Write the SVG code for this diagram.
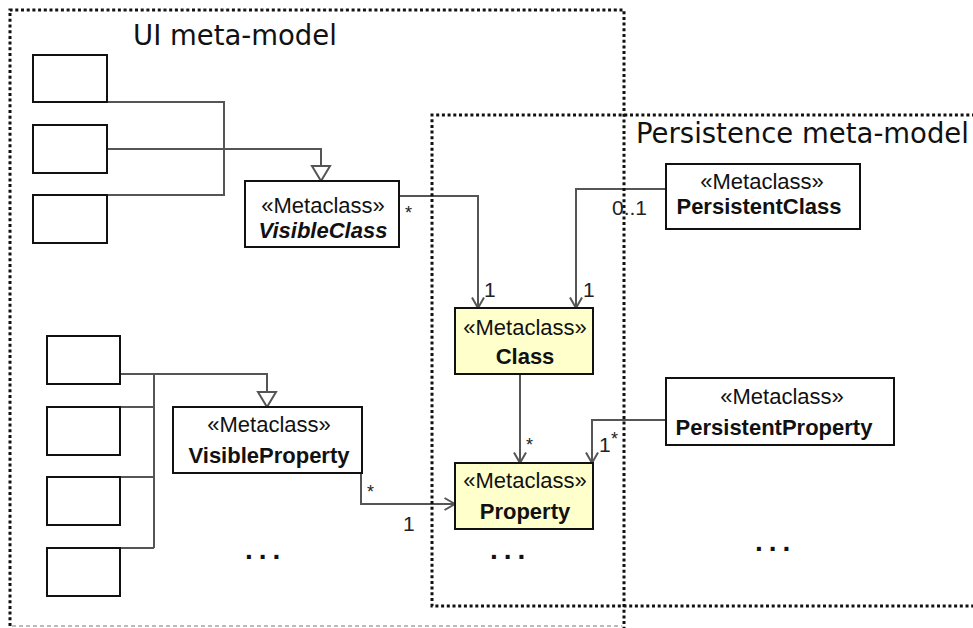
<svg xmlns="http://www.w3.org/2000/svg" width="973" height="628" viewBox="0 0 973 628">
  <style>
    .cls { fill: #ffffff; stroke: #111; stroke-width: 2; }
    .core { fill: #ffffcc; stroke: #111; stroke-width: 2; }
    .stub { fill: #ffffff; stroke: #111; stroke-width: 2; }
    .st { font-family: "Liberation Sans", Arial, sans-serif; font-size: 22px; fill: #111; text-anchor: middle; }
    .nm { font-family: "Liberation Sans", Arial, sans-serif; font-size: 22px; font-weight: bold; fill: #111; text-anchor: middle; }
    .it { font-style: italic; }
    .wire { fill: none; stroke: #555; stroke-width: 2; }
    .gen { fill: #ffffff; stroke: #555; stroke-width: 2; }
    .mult { font-family: "Liberation Sans", Arial, sans-serif; font-size: 21px; fill: #222; }
    .star { font-family: "Liberation Sans", Arial, sans-serif; font-size: 18px; fill: #222; }
    .more { font-family: "Liberation Sans", Arial, sans-serif; font-size: 28px; font-weight: bold; letter-spacing: 6px; fill: #111; }
    .frame { fill: none; stroke: #111; stroke-width: 3; stroke-dasharray: 3 2.7; }
    .frame-soft { fill: none; stroke: #bbb; stroke-width: 2; stroke-dasharray: 4 3; }
    .title { font-family: "DejaVu Sans", sans-serif; font-size: 27.5px; fill: #111; }
  </style>
  <defs>
    <marker id="open" viewBox="0 0 12 14" refX="11.5" refY="7" markerWidth="12" markerHeight="14" orient="auto" markerUnits="userSpaceOnUse">
      <path d="M1,1 L11.5,7 L1,13" fill="none" stroke="#555" stroke-width="2"/>
    </marker>
  </defs>

  <rect width="973" height="628" fill="#ffffff"/>

  <!-- connectors -->
  <g id="connectors">
    <!-- generalizations of the UI class stubs -->
    <path class="wire" d="M107,102 H224 V195 H107"/>
    <path class="wire" d="M107,149 H321 V166"/>
    <polygon class="gen" points="312,166 330,166 321,181"/>
    <path class="wire" d="M120,374 H267 V392"/>
    <polygon class="gen" points="258,392 276,392 267,407"/>
    <path class="wire" d="M154,374 V548 M120,407 H154 M120,477 H154 M120,548 H154"/>

    <!-- associations -->
    <path class="wire" d="M399,196 H478 V308" marker-end="url(#open)"/>
    <path class="wire" d="M666,189 H576 V308" marker-end="url(#open)"/>
    <path class="wire" d="M520,374 V463" marker-end="url(#open)"/>
    <path class="wire" d="M666,420 H592 V463" marker-end="url(#open)"/>
    <path class="wire" d="M361,473 V504 H455" marker-end="url(#open)"/>

    <!-- multiplicities -->
    <text class="star" x="405" y="219">*</text>
    <text class="mult" x="484" y="297">1</text>
    <text class="mult" x="612" y="215">0..1</text>
    <text class="mult" x="583" y="297">1</text>
    <text class="star" x="526" y="451">*</text>
    <text class="mult" x="599" y="452">1</text>
    <text class="star" x="611" y="445">*</text>
    <text class="star" x="367" y="498">*</text>
    <text class="mult" x="403" y="531">1</text>
  </g>

  <!-- UI meta-model -->
  <g id="stub1"><rect class="stub" x="33" y="55" width="74" height="47"/></g>
  <g id="stub2"><rect class="stub" x="33" y="125" width="74" height="48"/></g>
  <g id="stub3"><rect class="stub" x="33" y="195" width="74" height="48"/></g>
  <g id="stub4"><rect class="stub" x="47" y="336" width="73" height="48"/></g>
  <g id="stub5"><rect class="stub" x="47" y="407" width="73" height="48"/></g>
  <g id="stub6"><rect class="stub" x="47" y="477" width="73" height="48"/></g>
  <g id="stub7"><rect class="stub" x="47" y="548" width="73" height="48"/></g>

  <g id="visibleClass">
    <rect class="cls" x="245" y="181" width="154" height="66"/>
    <text class="st" x="323" y="213">«Metaclass»</text>
    <text class="nm it" x="323" y="238">VisibleClass</text>
  </g>
  <g id="visibleProperty">
    <rect class="cls" x="173" y="407" width="189" height="66"/>
    <text class="st" x="269" y="432">«Metaclass»</text>
    <text class="nm" x="269" y="463">VisibleProperty</text>
  </g>

  <!-- shared core -->
  <g id="class">
    <rect class="core" x="455" y="308" width="138" height="66"/>
    <text class="st" x="525" y="335">«Metaclass»</text>
    <text class="nm" x="525" y="364">Class</text>
  </g>
  <g id="property">
    <rect class="core" x="455" y="463" width="138" height="66"/>
    <text class="st" x="525" y="488">«Metaclass»</text>
    <text class="nm" x="525" y="519">Property</text>
  </g>

  <!-- Persistence meta-model -->
  <g id="persistentClass">
    <rect class="cls" x="666" y="164" width="194" height="65"/>
    <text class="st" x="762" y="189">«Metaclass»</text>
    <text class="nm" x="759" y="214">PersistentClass</text>
  </g>
  <g id="persistentProperty">
    <rect class="cls" x="666" y="378" width="228" height="67"/>
    <text class="st" x="782" y="404">«Metaclass»</text>
    <text class="nm" x="774" y="435">PersistentProperty</text>
  </g>

  <!-- elided elements -->
  <g id="more">
    <text class="more" x="245" y="559">...</text>
    <text class="more" x="490" y="559">...</text>
    <text class="more" x="755" y="551">...</text>
  </g>

  <!-- meta-model frames -->
  <g id="uiFrame">
    <path class="frame" d="M10,626 V10 H624 V628"/>
    <path class="frame-soft" d="M12,626 H622"/>
    <text class="title" x="133" y="45">UI meta-model</text>
  </g>
  <g id="persistenceFrame">
    <path class="frame" d="M975,115 H432 V606 H975"/>
    <text class="title" x="636" y="143">Persistence meta-model</text>
  </g>
</svg>
